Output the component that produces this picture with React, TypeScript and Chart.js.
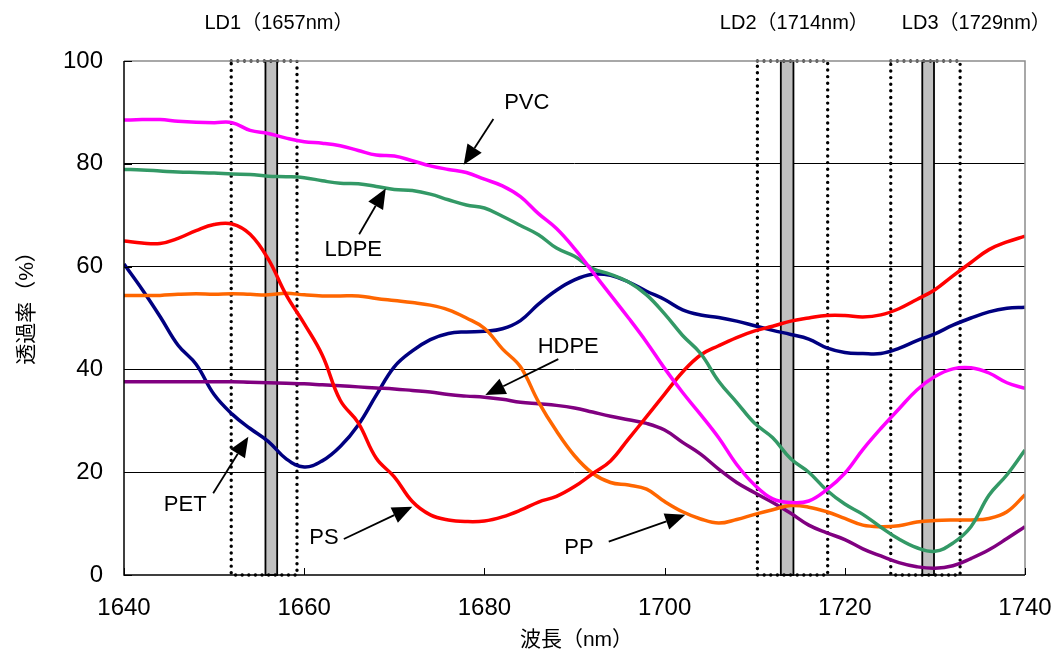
import React, { useEffect, useRef } from "react";
import { Chart, registerables } from "chart.js";

Chart.register(...registerables);

// ---------- data ----------
const WAVELENGTHS = [
  1640, 1642, 1644, 1646, 1648, 1650, 1652, 1654, 1656, 1658,
  1660, 1662, 1664, 1666, 1668, 1670, 1672, 1674, 1676, 1678,
  1680, 1682, 1684, 1686, 1688, 1690, 1692, 1694, 1696, 1698,
  1700, 1702, 1704, 1706, 1708, 1710, 1712, 1714, 1716, 1718,
  1720, 1722, 1724, 1726, 1728, 1730, 1732, 1734, 1736, 1738, 1740,
];

const PVC = [
  88.5, 88.6, 88.6, 88.3, 88.1, 88.0, 88.0, 86.5, 85.9, 85.0,
  84.3, 84.0, 83.5, 82.6, 81.7, 81.5, 80.6, 79.6, 78.9, 78.3,
  77.0, 75.7, 73.6, 70.3, 67.4, 63.5, 59.0, 54.5, 50.0, 45.3,
  40.2, 35.5, 31.2, 26.7, 21.5, 17.5, 14.8, 14.1, 14.4, 16.6,
  19.8, 24.4, 28.5, 32.3, 36.0, 38.6, 40.1, 40.3, 39.3, 37.4, 36.3,
];

const LDPE = [
  78.9, 78.8, 78.6, 78.4, 78.3, 78.2, 78.0, 77.9, 77.6, 77.5,
  77.3, 76.7, 76.2, 76.1, 75.6, 75.0, 74.8, 74.1, 73.0, 72.0,
  71.4, 69.8, 68.0, 66.2, 63.6, 62.0, 59.6, 58.5, 57.0, 54.5,
  50.8, 46.6, 43.1, 37.7, 33.6, 29.5, 26.7, 22.6, 20.0, 16.5,
  13.8, 11.8, 9.3, 7.0, 5.3, 4.6, 6.2, 9.4, 15.5, 19.5, 24.3,
];

const PS = [
  65.0, 64.6, 64.5, 65.5, 67.0, 68.2, 68.3, 66.3, 61.5, 54.5,
  48.9, 42.8, 34.0, 29.6, 22.7, 19.1, 14.3, 11.7, 10.7, 10.4,
  10.5, 11.3, 12.6, 14.2, 15.3, 17.2, 19.7, 22.2, 26.5, 30.8,
  35.2, 39.5, 42.8, 44.6, 46.2, 47.5, 48.4, 49.4, 50.0, 50.5,
  50.5, 50.2, 50.6, 51.8, 53.6, 55.5, 58.2, 60.8, 63.3, 64.8, 65.9,
];

const PP = [
  54.4, 54.4, 54.4, 54.6, 54.7, 54.6, 54.7, 54.6, 54.5, 54.8,
  54.5, 54.3, 54.3, 54.3, 53.8, 53.4, 53.0, 52.5, 51.6, 50.0,
  48.0, 44.0, 40.5, 33.7, 28.0, 23.2, 19.8, 18.0, 17.5, 16.7,
  14.3, 12.3, 10.9, 10.1, 10.8, 11.8, 12.7, 13.5, 13.2, 12.3,
  11.0, 9.7, 9.4, 9.6, 10.3, 10.6, 10.7, 10.7, 11.0, 12.3, 15.6,
];

const HDPE = [
  37.6, 37.6, 37.6, 37.6, 37.6, 37.6, 37.6, 37.5, 37.4, 37.3,
  37.2, 37.0, 36.8, 36.6, 36.4, 36.2, 35.9, 35.6, 35.1, 34.8,
  34.6, 34.2, 33.6, 33.3, 33.0, 32.5, 31.7, 30.9, 30.2, 29.5,
  28.2, 25.8, 23.5, 20.6, 18.0, 16.0, 14.1, 12.0, 9.7, 8.2,
  6.9, 5.1, 3.7, 2.4, 1.6, 1.3, 1.8, 3.2, 4.9, 7.1, 9.4,
];

const PET = [
  60.5, 55.6, 50.3, 44.7, 41.0, 35.1, 31.3, 28.5, 26.0, 22.6,
  21.0, 22.2, 25.0, 29.2, 35.0, 40.5, 43.6, 45.8, 47.0, 47.3,
  47.4, 47.9, 49.5, 52.7, 55.4, 57.4, 58.5, 58.3, 57.0, 55.2,
  53.6, 51.6, 50.6, 50.1, 49.4, 48.5, 47.6, 46.8, 45.9, 44.2,
  43.3, 43.1, 43.1, 44.1, 45.6, 46.9, 48.6, 50.0, 51.2, 51.9, 52.1,
];

const SERIES_NAMES = ["PVC", "LDPE", "PS", "PP", "HDPE", "PET"];
const SERIES_VALUES = [PVC, LDPE, PS, PP, HDPE, PET];
const SERIES_COLORS = ["#FF00FF", "#339966", "#FF0000", "#FF6600", "#800080", "#000080"];

const X_TICKS = [1640, 1660, 1680, 1700, 1720, 1740];
const Y_TICKS = [0, 20, 40, 60, 80, 100];

// laser diode bands (nm)
const LD_LABELS = ["LD1（1657nm）", "LD2（1714nm）", "LD3（1729nm）"];
const LD_LABEL_X = [1657.2, 1714.4, 1734.6];
const LD_BARS = [
  [1655.7, 1657.0],
  [1712.9, 1714.3],
  [1728.6, 1729.9],
];
const LD_WINDOWS = [
  [1651.9, 1659.2],
  [1710.3, 1718.1],
  [1725.1, 1732.8],
];

// callouts (data units)
const CALLOUT_LABELS = ["PVC", "LDPE", "HDPE", "PET", "PS", "PP"];
const CALLOUT_TEXT_AT = [
  [1684.7, 91.8],
  [1665.45, 63.2],
  [1689.3, 44.3],
  [1646.8, 13.6],
  [1662.2, 7.3],
  [1690.5, 5.2],
];
const CALLOUT_FROM = [
  [1681.0, 88.7],
  [1666.1, 66.3],
  [1688.2, 42.0],
  [1649.9, 15.9],
  [1664.4, 7.0],
  [1693.8, 6.5],
];
const CALLOUT_TIP = [
  [1677.7, 79.8],
  [1669.05, 75.2],
  [1680.1, 35.0],
  [1653.8, 26.9],
  [1672.0, 13.3],
  [1702.3, 11.7],
];

const X_TITLE = "波長（nm）";
const Y_TITLE = "透過率（%）";

const FONT = "'Liberation Sans', Arial, 'Noto Sans CJK JP', sans-serif";

const overlayPlugin = {
  id: "overlay",
  beforeDraw(chart: any) {
    const { ctx, width, height } = chart;
    ctx.save();
    ctx.fillStyle = "#ffffff";
    ctx.fillRect(0, 0, width, height);
    ctx.restore();
  },
  beforeDatasetsDraw(chart: any) {
    const { ctx, chartArea } = chart;
    const xs = chart.scales.x;
    const top = chartArea.top;
    const h = chartArea.bottom - chartArea.top;
    ctx.save();
    // gray LD bars
    for (const [a, b] of LD_BARS) {
      const xa = xs.getPixelForValue(a);
      const xb = xs.getPixelForValue(b);
      ctx.fillStyle = "#c0c0c0";
      ctx.fillRect(xa, top, xb - xa, h);
      ctx.strokeStyle = "#000";
      ctx.lineWidth = 1.8;
      ctx.strokeRect(xa, top, xb - xa, h);
    }
    // dotted windows
    ctx.strokeStyle = "#000";
    ctx.lineWidth = 3.4;
    ctx.lineCap = "round";
    ctx.setLineDash([0.01, 6.6]);
    for (const [a, b] of LD_WINDOWS) {
      const xa = xs.getPixelForValue(a);
      const xb = xs.getPixelForValue(b);
      ctx.beginPath();
      ctx.rect(xa, top, xb - xa, h);
      ctx.stroke();
    }
    ctx.restore();
  },
  afterDatasetsDraw(chart: any) {
    const { ctx, chartArea } = chart;
    const xs = chart.scales.x;
    const ys = chart.scales.y;
    ctx.save();
    // plot border (top/right gray)
    ctx.strokeStyle = "#8c8c8c";
    ctx.lineWidth = 1.5;
    ctx.beginPath();
    ctx.moveTo(chartArea.left, chartArea.top);
    ctx.lineTo(chartArea.right, chartArea.top);
    ctx.lineTo(chartArea.right, chartArea.bottom);
    ctx.stroke();
    // axes black
    ctx.strokeStyle = "#000";
    ctx.lineWidth = 1.5;
    ctx.beginPath();
    ctx.moveTo(chartArea.left, chartArea.top);
    ctx.lineTo(chartArea.left, chartArea.bottom);
    ctx.lineTo(chartArea.right, chartArea.bottom);
    ctx.stroke();
    // inward tick marks
    ctx.lineWidth = 1;
    ctx.beginPath();
    for (const t of X_TICKS) {
      const px = Math.round(xs.getPixelForValue(t)) + 0.5;
      ctx.moveTo(px, chartArea.bottom);
      ctx.lineTo(px, chartArea.bottom - 7);
    }
    for (const t of Y_TICKS) {
      const py = Math.round(ys.getPixelForValue(t)) + 0.5;
      ctx.moveTo(chartArea.left, py);
      ctx.lineTo(chartArea.left + 8, py);
    }
    ctx.stroke();

    // callouts
    ctx.fillStyle = "#000";
    ctx.strokeStyle = "#000";
    ctx.font = `22px ${FONT}`;
    ctx.textAlign = "center";
    ctx.textBaseline = "middle";
    CALLOUT_LABELS.forEach((label, i) => {
      const tx = xs.getPixelForValue(CALLOUT_TEXT_AT[i][0]);
      const ty = ys.getPixelForValue(CALLOUT_TEXT_AT[i][1]);
      ctx.fillText(label, tx, ty);
      const x1 = xs.getPixelForValue(CALLOUT_FROM[i][0]);
      const y1 = ys.getPixelForValue(CALLOUT_FROM[i][1]);
      const x2 = xs.getPixelForValue(CALLOUT_TIP[i][0]);
      const y2 = ys.getPixelForValue(CALLOUT_TIP[i][1]);
      const ang = Math.atan2(y2 - y1, x2 - x1);
      const hl = 20;
      const hw = 8.5;
      const bx = x2 - hl * Math.cos(ang);
      const by = y2 - hl * Math.sin(ang);
      ctx.lineWidth = 1.8;
      ctx.beginPath();
      ctx.moveTo(x1, y1);
      ctx.lineTo(bx, by);
      ctx.stroke();
      ctx.beginPath();
      ctx.moveTo(x2, y2);
      ctx.lineTo(bx + hw * Math.sin(ang), by - hw * Math.cos(ang));
      ctx.lineTo(bx - hw * Math.sin(ang), by + hw * Math.cos(ang));
      ctx.closePath();
      ctx.fill();
    });

    // LD labels above plot
    ctx.font = `20px ${FONT}`;
    LD_LABELS.forEach((label, i) => {
      ctx.fillText(label, xs.getPixelForValue(LD_LABEL_X[i]), chartArea.top - 38);
    });

    // axis titles
    ctx.font = `21px ${FONT}`;
    ctx.fillText(X_TITLE, (chartArea.left + chartArea.right) / 2 + 2, chartArea.bottom + 65);
    ctx.translate(27, 303);
    ctx.rotate(-Math.PI / 2);
    ctx.fillText(Y_TITLE, 0, 0);
    ctx.restore();
  },
};

export default function App() {
  const canvasRef = useRef<HTMLCanvasElement | null>(null);

  useEffect(() => {
    if (!canvasRef.current) return;
    const datasets = SERIES_NAMES.map((name, i) => ({
      label: name,
      data: WAVELENGTHS.map((w, j) => ({ x: w, y: SERIES_VALUES[i][j] })),
      borderColor: SERIES_COLORS[i],
      backgroundColor: SERIES_COLORS[i],
      borderWidth: 3.5,
      pointRadius: 0,
      tension: 0.4,
      fill: false,
    }));
    const chart = new Chart(canvasRef.current, {
      type: "line",
      data: { datasets },
      plugins: [overlayPlugin],
      options: {
        animation: false,
        responsive: false,
        maintainAspectRatio: false,
        layout: { padding: { top: 61, right: 31, left: 0, bottom: 0 } },
        plugins: {
          legend: { display: false },
          tooltip: { enabled: false },
        },
        scales: {
          x: {
            type: "linear",
            min: 1640,
            max: 1740,
            afterFit: (s: any) => {
              s.height = 79;
              s.paddingLeft = 0;
              s.paddingRight = 0;
            },
            afterBuildTicks: (s: any) => {
              s.ticks = X_TICKS.map((v) => ({ value: v }));
            },
            ticks: {
              font: { size: 24, family: FONT },
              color: "#000",
              padding: 19,
              maxRotation: 0,
              callback: (v: any) => String(v),
            },
            grid: { display: false, drawTicks: false },
            border: { display: false },
          },
          y: {
            type: "linear",
            min: 0,
            max: 100,
            afterFit: (s: any) => {
              s.width = 124;
              s.paddingTop = 0;
              s.paddingBottom = 0;
            },
            afterBuildTicks: (s: any) => {
              s.ticks = Y_TICKS.map((v) => ({ value: v }));
            },
            ticks: {
              font: { size: 24, family: FONT },
              color: "#000",
              padding: 21,
              callback: (v: any) => String(v),
            },
            grid: {
              drawTicks: false,
              color: (c: any) =>
                c.tick && (c.tick.value === 0 || c.tick.value === 100) ? "rgba(0,0,0,0)" : "#000",
              lineWidth: 1,
            },
            border: { display: false },
          },
        },
      },
    });
    return () => chart.destroy();
  }, []);

  return (
    <div style={{ position: "fixed", left: 0, top: 0, width: 1056, height: 654, background: "#fff" }}>
      <canvas ref={canvasRef} width={1056} height={654} style={{ width: 1056, height: 654 }} />
    </div>
  );
}
